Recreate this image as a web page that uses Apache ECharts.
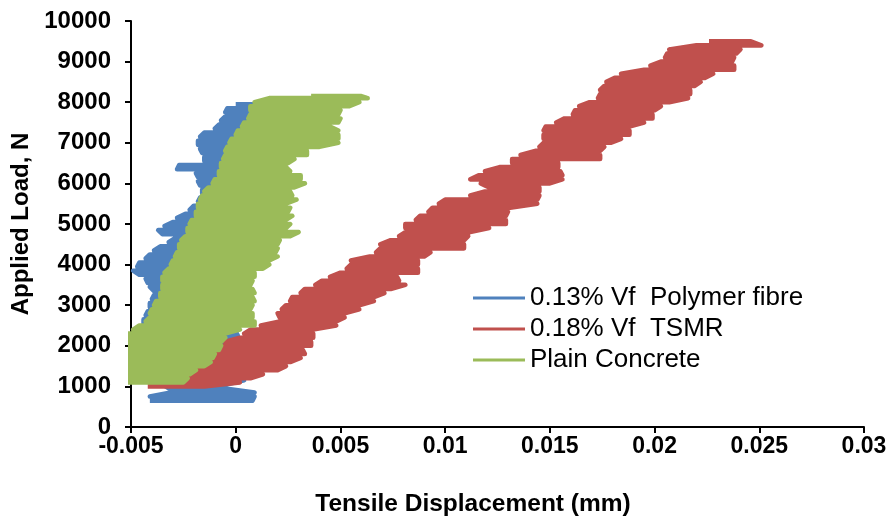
<!DOCTYPE html>
<html>
<head>
<meta charset="utf-8">
<script src="https://cdn.jsdelivr.net/npm/echarts@6/dist/echarts.min.js"></script>
<style>
  html, body { margin: 0; padding: 0; background: #fff; }
  #chart { width: 890px; height: 522px; }
</style>
</head>
<body>
<div id="chart"></div>
<script>
// Axis ticks
const xTicks = [-0.005, 0, 0.005, 0.01, 0.015, 0.02, 0.025, 0.03];
const yTicks = [0, 1000, 2000, 3000, 4000, 5000, 6000, 7000, 8000, 9000, 10000];

// Each specimen: load steps (N) with the smallest and largest tensile
// displacement (mm) recorded while the load sat at that step.

// 0.13% Vf Polymer fibre
const polyLoad = [650, 750, 850, 950, 1050, 1150, 1250, 1350, 1450, 1550, 1650, 1750, 1850, 1950,
  2050, 2150, 2250, 2350, 2450, 2550, 2650, 2750, 2850, 2950, 3050, 3150, 3250, 3350, 3450, 3550,
  3650, 3750, 3850, 3950, 4050, 4150, 4250, 4350, 4450, 4550, 4650, 4750, 4850, 4950, 5050, 5150,
  5250, 5350, 5450, 5550, 5650, 5750, 5850, 5950, 6050, 6150, 6250, 6350, 6450, 6550, 6650, 6750,
  6850, 6950, 7050, 7150, 7250, 7350, 7450, 7550, 7650, 7750, 7850, 7950];
const polyMin = [-0.0041, -0.0041, -0.0031, -0.0032, -0.0035, -0.0039, -0.0041, -0.0042, -0.0043, -0.0046,
  -0.0047, -0.0048, -0.0048, -0.0048, -0.0048, -0.0047, -0.0046, -0.0045, -0.0043, -0.0044,
  -0.0044, -0.0043, -0.0042, -0.0041, -0.0041, -0.0040, -0.0039, -0.0039, -0.0041, -0.0042,
  -0.0043, -0.0046, -0.0049, -0.0047, -0.0046, -0.0043, -0.0041, -0.0039, -0.0036, -0.0032,
  -0.0029, -0.0035, -0.0037, -0.0034, -0.0030, -0.0028, -0.0024, -0.0022, -0.0020, -0.0018,
  -0.0017, -0.0016, -0.0016, -0.0017, -0.0018, -0.0018, -0.0019, -0.0028, -0.0027, -0.0015,
  -0.0015, -0.0016, -0.0017, -0.0018, -0.0018, -0.0017, -0.0015, -0.0010, -0.0008, -0.0007,
  -0.0005, -0.0005, -0.0004, 0.0000];
const polyMax = [0.0008, 0.0009, 0.0009, -0.0005, -0.0004, 0.0004, 0.0005, 0.0004, 0.0001, -0.0003,
  -0.0011, -0.0014, -0.0011, -0.0008, -0.0007, 0.0001, 0.0001, 0.0000, -0.0001, -0.0005,
  -0.0010, -0.0010, -0.0010, -0.0010, -0.0008, -0.0008, -0.0010, -0.0010, -0.0010, -0.0010,
  -0.0010, -0.0010, -0.0010, -0.0010, -0.0008, -0.0008, -0.0003, -0.0003, -0.0005, -0.0005,
  -0.0003, 0.0000, 0.0002, 0.0002, 0.0002, 0.0000, 0.0000, 0.0000, 0.0000, 0.0002,
  0.0002, 0.0002, 0.0002, 0.0004, 0.0004, 0.0004, 0.0002, 0.0002, 0.0002, 0.0006,
  0.0007, 0.0009, 0.0009, 0.0014, 0.0017, 0.0017, 0.0014, 0.0009, 0.0012, 0.0014,
  0.0015, 0.0015, 0.0014, 0.0013];

// 0.18% Vf TSMR
const tsmrLoad = [1000, 1100, 1200, 1300, 1400, 1500, 1600, 1700, 1800, 1900, 2000, 2100, 2200, 2300,
  2400, 2500, 2600, 2700, 2800, 2900, 3000, 3100, 3200, 3300, 3400, 3500, 3600, 3700, 3800, 3900,
  4000, 4100, 4200, 4300, 4400, 4500, 4600, 4700, 4800, 4900, 5000, 5100, 5200, 5300, 5400, 5500,
  5600, 5700, 5800, 5900, 6000, 6100, 6200, 6300, 6400, 6500, 6600, 6700, 6800, 6900, 7000, 7100,
  7200, 7300, 7400, 7500, 7600, 7700, 7800, 7900, 8000, 8100, 8200, 8300, 8400, 8500, 8600, 8700,
  8800, 8900, 9000, 9100, 9200, 9300, 9400, 9500];
const tsmrMin = [-0.0042, -0.0040, -0.0034, -0.0027, -0.0022, -0.0018, -0.0015, -0.0014, -0.0011, -0.0010,
  -0.0009, -0.0005, 0.0002, 0.0004, 0.0007, 0.0012, 0.0021, 0.0021, 0.0020, 0.0022,
  0.0024, 0.0026, 0.0027, 0.0031, 0.0033, 0.0038, 0.0041, 0.0045, 0.0050, 0.0053,
  0.0055, 0.0055, 0.0064, 0.0067, 0.0069, 0.0069, 0.0074, 0.0078, 0.0081, 0.0081,
  0.0081, 0.0086, 0.0088, 0.0092, 0.0094, 0.0097, 0.0100, 0.0112, 0.0119, 0.0121,
  0.0117, 0.0112, 0.0116, 0.0119, 0.0126, 0.0132, 0.0132, 0.0136, 0.0143, 0.0145,
  0.0147, 0.0147, 0.0147, 0.0147, 0.0148, 0.0153, 0.0157, 0.0161, 0.0162, 0.0164,
  0.0169, 0.0173, 0.0174, 0.0174, 0.0176, 0.0177, 0.0181, 0.0184, 0.0195, 0.0198,
  0.0203, 0.0205, 0.0206, 0.0207, 0.0220, 0.0226];
const tsmrMax = [-0.0015, 0.0002, 0.0007, 0.0013, 0.0020, 0.0024, 0.0026, 0.0031, 0.0033, 0.0032,
  0.0036, 0.0036, 0.0037, 0.0037, 0.0037, 0.0048, 0.0048, 0.0052, 0.0052, 0.0059,
  0.0059, 0.0066, 0.0066, 0.0071, 0.0074, 0.0081, 0.0078, 0.0077, 0.0087, 0.0087,
  0.0087, 0.0087, 0.0090, 0.0093, 0.0109, 0.0109, 0.0109, 0.0111, 0.0112, 0.0121,
  0.0129, 0.0129, 0.0129, 0.0130, 0.0131, 0.0144, 0.0144, 0.0145, 0.0145, 0.0145,
  0.0150, 0.0156, 0.0156, 0.0155, 0.0154, 0.0154, 0.0174, 0.0174, 0.0174, 0.0176,
  0.0179, 0.0184, 0.0188, 0.0188, 0.0188, 0.0195, 0.0199, 0.0199, 0.0200, 0.0203,
  0.0207, 0.0216, 0.0217, 0.0217, 0.0219, 0.0222, 0.0224, 0.0228, 0.0238, 0.0238,
  0.0237, 0.0238, 0.0239, 0.0241, 0.0251, 0.0246];

// Plain Concrete
const plainLoad = [1100, 1200, 1300, 1400, 1500, 1600, 1700, 1800, 1900, 2000, 2100, 2200, 2300, 2400,
  2500, 2600, 2700, 2800, 2900, 3000, 3100, 3200, 3300, 3400, 3500, 3600, 3700, 3800, 3900, 4000,
  4100, 4200, 4300, 4400, 4500, 4600, 4700, 4800, 4900, 5000, 5100, 5200, 5300, 5400, 5500, 5600,
  5700, 5800, 5900, 6000, 6100, 6200, 6300, 6400, 6500, 6600, 6700, 6800, 6900, 7000, 7100, 7200,
  7300, 7400, 7500, 7600, 7700, 7800, 7900, 8000, 8100, 8150];
const plainMin = [-0.0052, -0.0052, -0.0052, -0.0052, -0.0052, -0.0052, -0.0052, -0.0052, -0.0052, -0.0052,
  -0.0052, -0.0052, -0.0052, -0.0049, -0.0046, -0.0043, -0.0041, -0.0041, -0.0040, -0.0039,
  -0.0038, -0.0036, -0.0036, -0.0035, -0.0035, -0.0035, -0.0035, -0.0034, -0.0032, -0.0031,
  -0.0030, -0.0029, -0.0028, -0.0027, -0.0027, -0.0026, -0.0024, -0.0023, -0.0023, -0.0022,
  -0.0021, -0.0019, -0.0019, -0.0018, -0.0018, -0.0017, -0.0016, -0.0015, -0.0013, -0.0011,
  -0.0010, -0.0008, -0.0008, -0.0007, -0.0007, -0.0006, -0.0005, -0.0005, -0.0004, -0.0003,
  -0.0002, 0.0000, 0.0001, 0.0003, 0.0004, 0.0006, 0.0007, 0.0007, 0.0007, 0.0009,
  0.0016, 0.0036];
const plainMax = [-0.0025, -0.0023, -0.0022, -0.0019, -0.0015, -0.0012, -0.0011, -0.0010, -0.0008, -0.0007,
  -0.0007, -0.0005, -0.0005, 0.0002, 0.0009, 0.0009, 0.0008, 0.0008, 0.0007, 0.0008,
  0.0009, 0.0008, 0.0009, 0.0008, 0.0007, 0.0008, 0.0009, 0.0009, 0.0013, 0.0016,
  0.0016, 0.0020, 0.0019, 0.0020, 0.0020, 0.0021, 0.0026, 0.0030, 0.0024, 0.0026,
  0.0024, 0.0027, 0.0025, 0.0026, 0.0024, 0.0029, 0.0027, 0.0026, 0.0028, 0.0033,
  0.0031, 0.0031, 0.0026, 0.0024, 0.0025, 0.0028, 0.0034, 0.0034, 0.0040, 0.0049,
  0.0049, 0.0049, 0.0049, 0.0045, 0.0049, 0.0050, 0.0049, 0.0050, 0.0054, 0.0059,
  0.0063, 0.0060];

const seriesNames = ['0.13% Vf  Polymer fibre', '0.18% Vf  TSMR', 'Plain Concrete'];
const seriesColors = ['#4F81BD', '#C0504D', '#9BBB59'];

// Trace the displacement sweep at every load step, reversing direction on
// alternate steps so the record runs as one continuous line.
function sweep(load, lo, hi) {
  const pts = [];
  load.forEach((y, i) => {
    if (i % 2 === 0) { pts.push([lo[i], y], [hi[i], y]); }
    else { pts.push([hi[i], y], [lo[i], y]); }
  });
  return pts;
}

const font = 'Arial, "Liberation Sans", sans-serif';
const curves = [
  sweep(polyLoad, polyMin, polyMax),
  sweep(tsmrLoad, tsmrMin, tsmrMax),
  sweep(plainLoad, plainMin, plainMax)
];

const chart = echarts.init(document.getElementById('chart'), null, { renderer: 'canvas' });
chart.setOption({
  animation: false,
  backgroundColor: '#ffffff',
  grid: { left: 131, right: 26, top: 21, bottom: 95, containLabel: false },
  legend: {
    orient: 'vertical',
    left: 468,
    top: 280,
    itemWidth: 52,
    itemHeight: 3,
    itemGap: 5,
    icon: 'rect',
    textStyle: { fontFamily: font, fontSize: 26, color: '#000' },
    data: seriesNames
  },
  xAxis: {
    type: 'value',
    min: xTicks[0],
    max: xTicks[xTicks.length - 1],
    interval: 0.005,
    name: 'Tensile Displacement (mm)',
    nameLocation: 'middle',
    nameGap: 65,
    nameTextStyle: { fontFamily: font, fontSize: 24.5, fontWeight: 'bold', color: '#000', padding: [0, 49, 0, 0] },
    axisLine: { onZero: false, lineStyle: { color: '#000', width: 2 } },
    axisTick: { show: true, length: 6, lineStyle: { color: '#000', width: 2 } },
    axisLabel: {
      fontFamily: font, fontSize: 23, fontWeight: 'bold', color: '#000', margin: 8,
      formatter: v => String(+v.toFixed(3))
    },
    splitLine: { show: false }
  },
  yAxis: {
    type: 'value',
    min: yTicks[0],
    max: yTicks[yTicks.length - 1],
    interval: 1000,
    name: 'Applied Load, N',
    nameLocation: 'middle',
    nameGap: 88,
    nameRotate: 90,
    nameTextStyle: { fontFamily: font, fontSize: 24, fontWeight: 'bold', color: '#000' },
    axisLine: { show: true, onZero: false, lineStyle: { color: '#000', width: 2 } },
    axisTick: { show: true, length: 6, lineStyle: { color: '#000', width: 2 } },
    axisLabel: {
      fontFamily: font, fontSize: 24, fontWeight: 'bold', color: '#000', margin: 20,
      formatter: v => String(v)
    },
    splitLine: { show: false }
  },
  series: curves.map((d, i) => ({
    name: seriesNames[i],
    type: 'line',
    data: d,
    showSymbol: false,
    symbol: 'none',
    clip: true,
    z: 2 + i,
    color: seriesColors[i],
    lineStyle: { color: seriesColors[i], width: 4.6, join: 'round', cap: 'butt' }
  }))
});
</script>
</body>
</html>
